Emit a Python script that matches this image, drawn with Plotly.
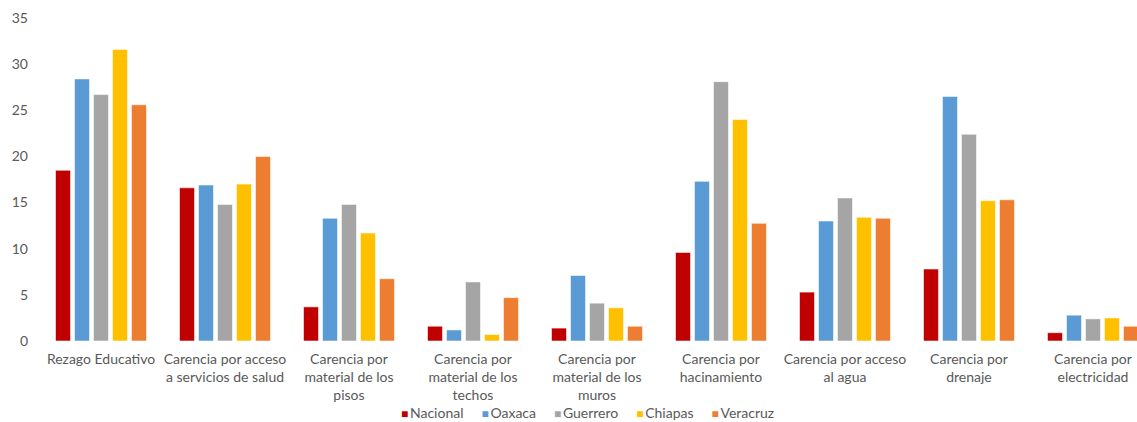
import plotly.graph_objects as go

categorias = [
    "Rezago Educativo",
    "Carencia por acceso<br>a servicios de salud",
    "Carencia por<br>material de los<br>pisos",
    "Carencia por<br>material de los<br>techos",
    "Carencia por<br>material de los<br>muros",
    "Carencia por<br>hacinamiento",
    "Carencia por acceso<br>al agua",
    "Carencia por<br>drenaje",
    "Carencia por<br>electricidad",
]

nacional = [18.5, 16.6, 3.7, 1.6, 1.4, 9.6, 5.3, 7.8, 0.9]
oaxaca = [28.4, 16.9, 13.3, 1.2, 7.1, 17.3, 13.0, 26.5, 2.8]
guerrero = [26.7, 14.8, 14.8, 6.4, 4.1, 28.1, 15.5, 22.4, 2.4]
chiapas = [31.6, 17.0, 11.7, 0.7, 3.6, 24.0, 13.4, 15.2, 2.5]
veracruz = [25.6, 20.0, 6.75, 4.7, 1.6, 12.75, 13.3, 15.3, 1.6]

series = [
    ("Nacional", nacional, "#C00000"),
    ("Oaxaca", oaxaca, "#5B9BD5"),
    ("Guerrero", guerrero, "#A5A5A5"),
    ("Chiapas", chiapas, "#FFC000"),
    ("Veracruz", veracruz, "#ED7D31"),
]

y_ticks = [0, 5, 10, 15, 20, 25, 30, 35]

font_family = "Lato, 'Open Sans', sans-serif"
text_color = "#595959"

fig = go.Figure()
x_idx = list(range(len(categorias)))
for nombre, valores, color in series:
    fig.add_trace(go.Bar(
        x=x_idx, y=valores, name=nombre, showlegend=False,
        marker=dict(color=color, line=dict(color="rgba(255,255,255,0.55)", width=1)),
    ))

# Compact legend row: coloured square glyph right before each series name
legend_html = "&nbsp;&nbsp;&nbsp;&nbsp;&nbsp;".join(
    f"<span style='color:{color}; font-size:12px'>■</span>&#8201;{nombre}"
    for nombre, _, color in series
)
fig.add_annotation(
    text=legend_html, xref="paper", yref="paper", x=0.4995, y=-0.19,
    xanchor="center", yanchor="top", showarrow=False,
    font=dict(family=font_family, size=14, color=text_color),
)

fig.update_layout(
    width=1137, height=422,
    margin=dict(l=39, r=0, t=18, b=81, autoexpand=False),
    paper_bgcolor="white", plot_bgcolor="white",
    barmode="group", bargap=0.234, bargroupgap=0.21,
    font=dict(family=font_family, size=14, color=text_color),
    showlegend=False,
    xaxis=dict(
        tickmode="array", tickvals=x_idx, ticktext=categorias,
        range=[-0.5, 8.355], showgrid=False, zeroline=False, showline=False,
        ticks="", ticklabelstandoff=8, automargin=False,
        tickfont=dict(size=14, color=text_color),
    ),
    yaxis=dict(
        range=[0, 35], tickvals=y_ticks, showgrid=False, zeroline=False,
        showline=False, ticks="", ticklabelstandoff=10, automargin=False,
        tickfont=dict(size=14, color=text_color),
    ),
)

fig.write_html("out.html")
